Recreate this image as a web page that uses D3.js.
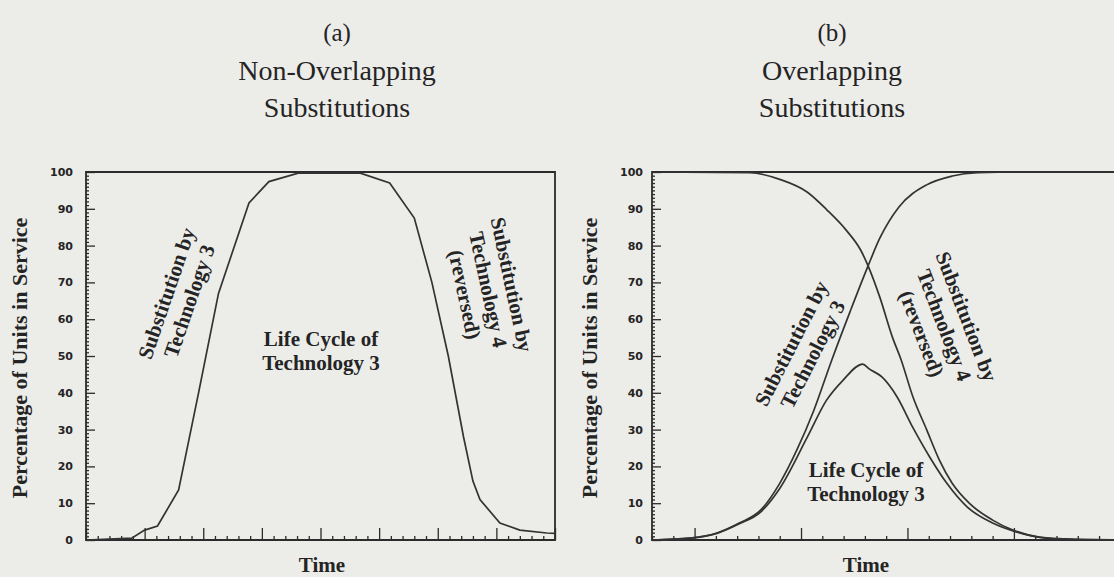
<!DOCTYPE html>
<html>

<head>
    <title>Technology substitution</title>
    <script src="https://cdn.jsdelivr.net/npm/d3@7"></script>
    <style>
        body { margin: 0; background: #ecece9; }
        text { fill: #242424; }
    </style>
</head>

<body>
    <svg width="1114" height="577" id="mainsvg"></svg>
    <script>
        // values, time in minor-tick units
        const yTicks = [0, 10, 20, 30, 40, 50, 60, 70, 80, 90, 100];

        // (a) non-overlapping
        const aTime = [0, 3.9, 5.0, 6.1, 7.9, 9.6, 11.3, 13.9, 15.6, 18.1, 23.4, 25.9, 28.0, 29.5, 30.9, 32.2, 33.0, 33.6, 35.3, 37.0, 39.3, 40];
        const aLife = [0, 0.5, 2.7, 3.8, 13.6, 40, 67, 91.6, 97.4, 99.7, 99.7, 97, 87.5, 70, 50, 28, 16, 11, 4.6, 2.7, 1.9, 1.8];

        // (b) overlapping
        const bRiseTime = [0, 1.8, 3.05, 4.1, 5.1, 6.0, 6.8, 7.6, 8.45, 9.3, 10.15, 10.7, 11.6, 12.9, 14.1, 15.3, 17.3, 22.5];
        const bRise = [0, 0.5, 1.9, 4.6, 8.1, 15.4, 24.4, 35.2, 49, 62, 74.5, 82, 90.5, 96.5, 98.9, 99.8, 100, 100];
        const bFallTime = [0, 4.6, 6.0, 7.3, 8.2, 9.15, 9.8, 10.15, 10.7, 11.3, 11.7, 12.25, 12.9, 13.5, 14.1, 14.9, 16.0, 16.95, 18.2, 19.8, 22.5];
        const bFall = [100, 99.8, 98, 94.5, 89.8, 84, 78.8, 74.5, 66, 55, 49, 39, 30, 21.7, 15.4, 10, 5.4, 2.7, 0.8, 0.2, 0];
        const bLifeTime = [0, 1.8, 3.05, 4.1, 5.1, 6.0, 7.3, 8.2, 8.97, 9.9, 10.2, 10.8, 11.5, 12.25, 13.05, 13.85, 14.8, 16.0, 17.1, 18.5, 20.6, 22.5];
        const bLife = [0, 0.5, 1.8, 4.4, 7.6, 14, 28, 38, 43.4, 47.8, 46.5, 44.3, 39, 30.6, 22.5, 15.4, 9, 4.6, 2.2, 0.5, 0.1, 0];

        const svg = d3.select('svg');
        const serif = 'Liberation Serif, Times New Roman, serif';

        function panel(opt) {
            const x = d3.scaleLinear().domain(opt.xDomain).range(opt.xRange);
            const y = d3.scaleLinear().domain([0, 100]).range([540, 172]);
            const g = svg.append('g');

            // titles
            opt.title.forEach((t, i) => {
                g.append('text').attr('x', opt.titleX).attr('y', [41, 80, 117][i])
                    .attr('text-anchor', 'middle').attr('font-family', serif)
                    .attr('font-size', i === 0 ? 25 : 28).text(t);
            });

            // frame
            const x0 = opt.xRange[0], x1 = opt.xRange[1];
            g.append('path')
                .attr('d', opt.closed
                    ? `M${x0},${y(0)}V${y(100)}H${x1}V${y(0)}Z`
                    : `M${x1},${y(0)}H${x0}V${y(100)}H${x1}`)
                .attr('fill', 'none').attr('stroke', '#2b2b2b').attr('stroke-width', 1.8);

            // y axis, ticks pointing inward
            const minorY = d3.range(0, 101).filter(v => v % 10 !== 0);
            g.append('g').attr('transform', `translate(${x0},0)`)
                .call(d3.axisLeft(y).tickValues(minorY).tickSizeInner(-3).tickSizeOuter(0).tickFormat(''))
                .call(a => a.select('.domain').remove());
            g.append('g').attr('transform', `translate(${x0},0)`)
                .call(d3.axisLeft(y).tickValues(yTicks).tickSizeInner(-9).tickSizeOuter(0).tickPadding(opt.tickPad))
                .call(a => a.select('.domain').remove())
                .call(a => a.selectAll('text').attr('font-family', 'DejaVu Sans').attr('font-weight', 'bold')
                    .attr('font-size', 11).attr('fill', '#505050'));
            g.selectAll('.tick line').attr('stroke', '#2b2b2b').attr('stroke-width', 1.3);

            // x axis, no labels
            const xMinor = d3.range(Math.ceil(opt.xDomain[0]), Math.floor(opt.xDomain[1]) + 1);
            g.append('g').attr('transform', `translate(0,${y(0)})`)
                .call(d3.axisBottom(x).tickValues(xMinor.filter(v => (v - opt.majorOffset) % 5 !== 0))
                    .tickSizeInner(-4).tickSizeOuter(0).tickFormat(''))
                .call(a => a.select('.domain').remove());
            g.append('g').attr('transform', `translate(0,${y(0)})`)
                .call(d3.axisBottom(x).tickValues(xMinor.filter(v => (v - opt.majorOffset) % 5 === 0))
                    .tickSizeInner(-12).tickSizeOuter(0).tickFormat(''))
                .call(a => a.select('.domain').remove());
            g.selectAll('.tick line').attr('stroke', '#2b2b2b').attr('stroke-width', 1.3);

            // axis titles
            g.append('text')
                .attr('transform', `translate(${opt.yLabelX},358) rotate(-90)`)
                .attr('text-anchor', 'middle').attr('dominant-baseline', 'middle')
                .attr('font-family', serif).attr('font-weight', 'bold').attr('font-size', 22)
                .text('Percentage of Units in Service');
            g.append('text').attr('x', opt.timeX).attr('y', 572)
                .attr('text-anchor', 'middle').attr('font-family', serif)
                .attr('font-weight', 'bold').attr('font-size', 21).text('Time');

            // curves
            const line = d3.line().curve(opt.curve).x(d => x(d[0])).y(d => y(d[1]));
            opt.series.forEach(s => {
                g.append('path').datum(d3.zip(s[0], s[1]))
                    .attr('d', line).attr('fill', 'none')
                    .attr('stroke', '#333').attr('stroke-width', 1.7);
            });

            // notes
            opt.notes.forEach(n => {
                const ng = g.append('g').attr('transform', `translate(${n.x},${n.y}) rotate(${n.angle})`);
                const gap = 24;
                n.lines.forEach((l, i) => {
                    ng.append('text').attr('x', 0).attr('y', (i - (n.lines.length - 1) / 2) * gap)
                        .attr('text-anchor', 'middle').attr('dominant-baseline', 'middle')
                        .attr('font-family', serif).attr('font-weight', 'bold').attr('font-size', 21)
                        .text(l);
                });
            });
        }

        panel({
            title: ['(a)', 'Non-Overlapping', 'Substitutions'],
            titleX: 337,
            xDomain: [0, 40], xRange: [86, 555], majorOffset: 0,
            closed: true, tickPad: 13, yLabelX: 22, timeX: 322,
            curve: d3.curveLinear,
            series: [[aTime, aLife]],
            notes: [
                { x: 180, y: 298, angle: -71, lines: ['Substitution by', 'Technology 3'] },
                { x: 321, y: 353, angle: 0, lines: ['Life Cycle of', 'Technology 3'] },
                { x: 486, y: 290, angle: 78, lines: ['Substitution by', 'Technology 4', '(reversed)'] }
            ]
        });

        panel({
            title: ['(b)', 'Overlapping', 'Substitutions'],
            titleX: 832,
            xDomain: [0, 22.5], xRange: [652, 1131], majorOffset: 2,
            closed: false, tickPad: 9, yLabelX: 592, timeX: 866,
            curve: d3.curveMonotoneX,
            series: [[bRiseTime, bRise], [bFallTime, bFall], [bLifeTime, bLife]],
            notes: [
                { x: 804, y: 350, angle: -63, lines: ['Substitution by', 'Technology 3'] },
                { x: 866, y: 484, angle: 0, lines: ['Life Cycle of', 'Technology 3'] },
                { x: 942, y: 326, angle: 69, lines: ['Substitution by', 'Technology 4', '(reversed)'] }
            ]
        });
    </script>
</body>

</html>
